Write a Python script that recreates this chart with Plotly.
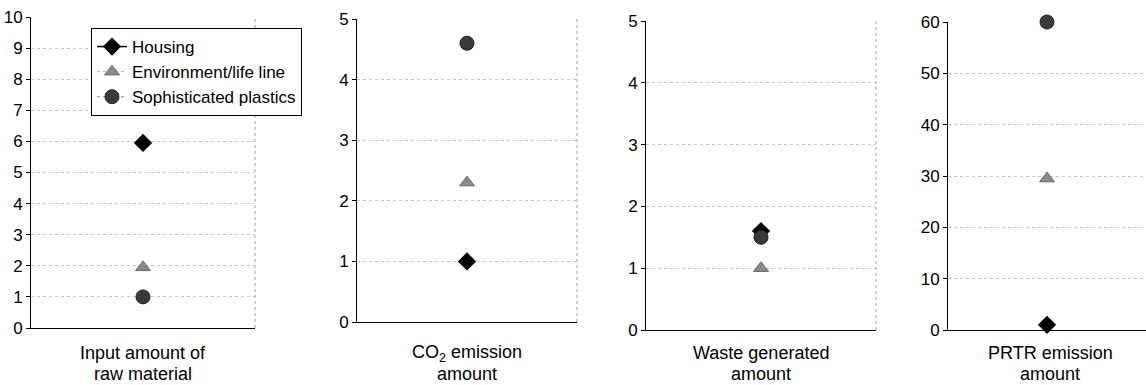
import plotly.graph_objects as go

label_line1 = ["Input amount of", "CO<sub>2</sub> emission", "Waste generated", "PRTR emission"]
label_line2 = ["raw material", "amount", "amount", "amount"]
series_names = ["Housing", "Environment/life line", "Sophisticated plastics"]
housing = [5.95, 1.0, 1.6, 1.0]
environment = [1.95, 2.3, 1.0, 29.5]
plastics = [1.0, 4.6, 1.5, 60.0]
y_max = [10, 5, 5, 60]
y_dtick = [1, 1, 1, 10]

W, H = 1146, 385
x_px = [(31, 255), (357, 577), (646, 876), (948, 1146)]
y_px = [(17, 328), (19, 322), (21, 330), (22, 330)]

styles = [
    dict(marker=dict(symbol="diamond", size=14, color="black"),
         line=dict(color="black", width=1.5, dash="solid")),
    dict(marker=dict(symbol="triangle-up", size=13, color="#8a8a8a",
                     line=dict(color="#6a6a6a", width=1)),
         line=dict(color="#aaaaaa", width=1, dash="dot")),
    dict(marker=dict(symbol="circle", size=14, color="#3a3a3a",
                     line=dict(color="#222222", width=1)),
         line=dict(color="#888888", width=1, dash="dot")),
]
values = [housing, environment, plastics]

fig = go.Figure()
for s, (name, vals, st) in enumerate(zip(series_names, values, styles)):
    for i in range(4):
        ax = "" if i == 0 else str(i + 1)
        fig.add_trace(go.Scatter(
            x=[0.5], y=[vals[i]], name=name, mode="lines+markers",
            marker=st["marker"], line=st["line"], cliponaxis=False,
            xaxis="x" + ax, yaxis="y" + ax,
            legendgroup=name, showlegend=(i == 0)))

layout = dict(
    template="none",
    width=W, height=H, margin=dict(l=0, r=0, t=0, b=0, pad=0),
    paper_bgcolor="white", plot_bgcolor="white",
    font=dict(family="Liberation Sans, Arial, sans-serif", color="black"),
    showlegend=True,
    legend=dict(x=91 / W, y=1 - 28 / H, xanchor="left", yanchor="top",
                bordercolor="black", borderwidth=1, bgcolor="white",
                font=dict(size=17), tracegroupgap=0,
                traceorder="normal"),
)
annotations = []
for i in range(4):
    ax = "" if i == 0 else str(i + 1)
    x0, x1 = x_px[i]
    y0, y1 = y_px[i]
    layout["xaxis" + ax] = dict(
        domain=[x0 / W, min(x1 / W, 1.0)], range=[0, 1], automargin=False,
        showticklabels=False, ticks="", showgrid=False, zeroline=False,
        showline=True, linecolor="black", linewidth=1, mirror=False,
        anchor="y" + ax, fixedrange=True)
    layout["yaxis" + ax] = dict(
        domain=[1 - y1 / H, 1 - y0 / H], range=[0, y_max[i]], dtick=y_dtick[i],
        tick0=0, automargin=False,
        showgrid=True, gridcolor="#c4c4c4", griddash="dot", gridwidth=1,
        zeroline=False, showline=True, linecolor="black", linewidth=1,
        ticks="outside", ticklen=4, tickcolor="black",
        tickfont=dict(size=17), anchor="x" + ax, fixedrange=True)
    cx = (x0 + x1) / 2 if i < 3 else 1050
    for text, ypix in ((label_line1[i], 353), (label_line2[i], 374)):
        annotations.append(dict(
            x=cx / W, y=1 - ypix / H, xref="paper", yref="paper",
            text=text, showarrow=False, xanchor="center", yanchor="middle",
            font=dict(size=18), align="center"))
fig.update_layout(**layout)
fig.update_layout(annotations=annotations)
shapes = []
for i in range(3):
    ax = "" if i == 0 else str(i + 1)
    shapes.append(dict(type="line", xref="x" + ax + " domain" if ax else "x domain",
                       yref="y" + ax + " domain" if ax else "y domain",
                       x0=1, x1=1, y0=0, y1=1,
                       line=dict(color="#a0a0a0", width=1, dash="dot")))
fig.update_layout(shapes=shapes)
fig.write_html("out.html", config={"displayModeBar": False},
               post_script="document.body.style.margin='0';document.body.style.overflow='hidden';")
